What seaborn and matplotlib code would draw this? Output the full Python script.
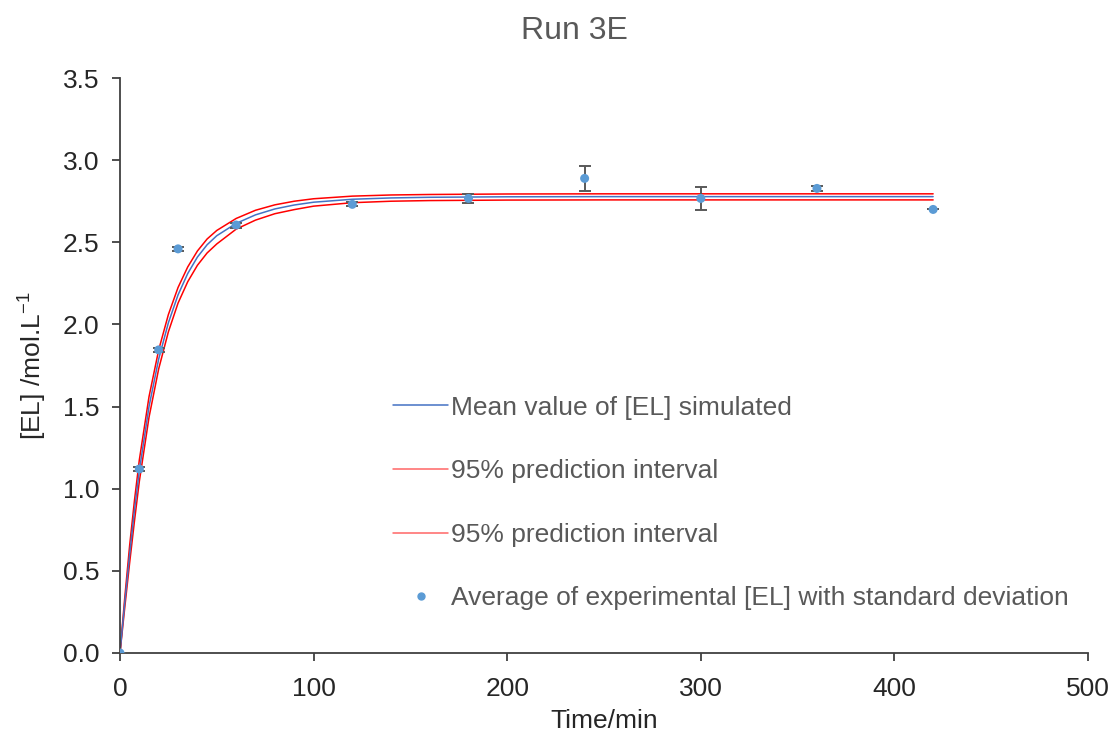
import pandas as pd
import matplotlib.pyplot as plt
import seaborn as sns
from matplotlib.lines import Line2D
from matplotlib.ticker import FormatStrFormatter

# Simulated curves
t_sim = [0, 2.5, 5, 7.5, 10, 15, 20, 25, 30, 35, 40, 45, 50, 60, 70, 80, 90,
         100, 120, 140, 160, 200, 250, 300, 350, 420]
el_mean = [0, 0.31, 0.60, 0.87, 1.11, 1.50, 1.79, 2.01, 2.18, 2.31, 2.41, 2.485,
           2.54, 2.615, 2.667, 2.703, 2.727, 2.744, 2.762, 2.77, 2.774, 2.777,
           2.778, 2.778, 2.778, 2.778]
el_upper = [0, 0.34, 0.655, 0.93, 1.175, 1.56, 1.845, 2.06, 2.225, 2.35, 2.447,
            2.52, 2.572, 2.645, 2.695, 2.728, 2.75, 2.765, 2.781, 2.788, 2.791,
            2.794, 2.795, 2.795, 2.795, 2.795]
el_lower = [0, 0.28, 0.55, 0.805, 1.045, 1.435, 1.73, 1.955, 2.13, 2.26, 2.36,
            2.435, 2.49, 2.58, 2.635, 2.674, 2.699, 2.72, 2.741, 2.75, 2.754,
            2.757, 2.758, 2.758, 2.758, 2.758]

# Experimental averages and standard deviations
t_exp = [0, 10, 20, 30, 60, 120, 180, 240, 300, 360, 420]
el_exp = [0, 1.12, 1.845, 2.46, 2.605, 2.731, 2.767, 2.889, 2.767, 2.828, 2.70]
el_sd = [0, 0.012, 0.012, 0.012, 0.015, 0.012, 0.03, 0.076, 0.07, 0.016, 0]

sim = pd.DataFrame({"t": t_sim, "mean": el_mean, "upper": el_upper, "lower": el_lower})
exp = pd.DataFrame({"t": t_exp, "el": el_exp, "sd": el_sd})

sns.set_style("white")
plt.rcParams["font.family"] = ["Liberation Sans", "DejaVu Sans"]
plt.rcParams["mathtext.fontset"] = "custom"
plt.rcParams["mathtext.rm"] = "Liberation Sans"
plt.rcParams["mathtext.it"] = "Liberation Sans:italic"

grey = "#595959"
blue_line = "#4472C4"
dot = "#5B9BD5"
red = "#FF0000"

fig = plt.figure(figsize=(11.15, 7.36), dpi=100)
ax = fig.add_axes([0.1076, 0.1128, 0.8682, 0.7812])

sns.lineplot(data=sim, x="t", y="upper", color=red, lw=1.1, ax=ax)
sns.lineplot(data=sim, x="t", y="lower", color=red, lw=1.1, ax=ax)
sns.lineplot(data=sim, x="t", y="mean", color=blue_line, lw=1.1, ax=ax)

ax.errorbar(exp["t"], exp["el"], yerr=exp["sd"], fmt="none", ecolor=grey,
            elinewidth=1.4, capsize=4.5, capthick=1.4, zorder=3)
sns.scatterplot(data=exp, x="t", y="el", color=dot, s=42, edgecolor="none",
                zorder=4, ax=ax)

ax.set_xlim(0, 500)
ax.set_ylim(0, 3.5)
ax.set_xticks(range(0, 501, 100))
ax.set_yticks([i * 0.5 for i in range(8)])
ax.yaxis.set_major_formatter(FormatStrFormatter("%.1f"))
ax.tick_params(axis="both", direction="out", length=6, width=1.3,
               bottom=True, left=True,
               color="#404040", labelsize=19, labelcolor="#262626")
ax.tick_params(axis="x", pad=11)
ax.tick_params(axis="y", pad=9)
for side in ["top", "right"]:
    ax.spines[side].set_visible(False)
for side in ["left", "bottom"]:
    ax.spines[side].set_color("#404040")
    ax.spines[side].set_linewidth(1.3)

ax.set_xlabel("Time/min", fontsize=19, color="#262626", labelpad=6)
ax.set_ylabel("[EL] /mol.L$^{-1}$", fontsize=19, color="#262626", labelpad=10)
fig.text(0.515, 0.958, "Run 3E", ha="center", va="center", fontsize=23, color=grey)

handles = [
    Line2D([], [], color=blue_line, lw=1.1),
    Line2D([], [], color=red, lw=1.1, alpha=0.6),
    Line2D([], [], color=red, lw=1.1, alpha=0.6),
    Line2D([], [], color=dot, marker="o", ms=5, lw=0),
]
labels = ["Mean value of [EL] simulated", "95% prediction interval",
          "95% prediction interval",
          "Average of experimental [EL] with standard deviation"]
leg = ax.legend(handles, labels, loc="upper left", bbox_to_anchor=(0.271, 0.466),
                frameon=False, fontsize=19, labelspacing=1.5, handlelength=2.1,
                handletextpad=0.1, borderaxespad=0)
for txt in leg.get_texts():
    txt.set_color(grey)

fig.savefig("out.png", dpi=100)
